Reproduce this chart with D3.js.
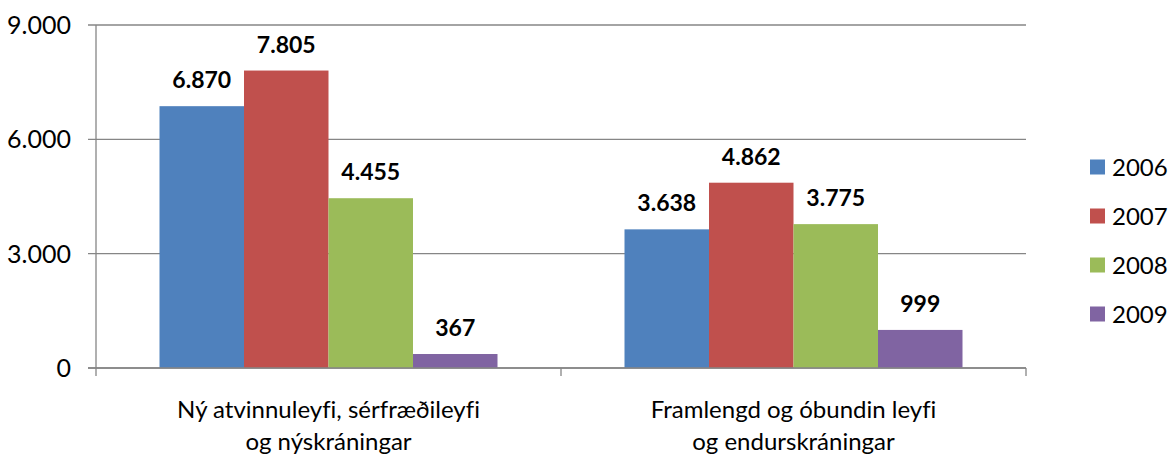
<!DOCTYPE html>
<html><head><meta charset="utf-8">
<script src="https://cdn.jsdelivr.net/npm/d3@7"></script>
<style>body{margin:0;background:#fff}svg{display:block}text{font-family:Lato,"Open Sans",sans-serif;font-variant-ligatures:none;font-feature-settings:"liga" 0}</style>
</head><body><svg id="c" width="1168" height="455"></svg>
<script>
const categories = [["Ný atvinnuleyfi, sérfræðileyfi","og nýskráningar"],["Framlengd og óbundin leyfi","og endurskráningar"]];
const years = ["2006","2007","2008","2009"];
const values = {
  "2006":[6870,3638],
  "2007":[7805,4862],
  "2008":[4455,3775],
  "2009":[367,999]
};
const colors = ["#4F81BD","#C0504D","#9BBB59","#8064A2"];
const ticks = [0,3000,6000,9000];

const svg = d3.select("#c");
const L=96,R=1026,T=25,B=368;
const fmt = v => d3.format(",")(v).replace(/,/g,".");
const y = d3.scaleLinear().domain([0,9000]).range([B,T]);
const x0 = d3.scaleBand().domain([0,1]).range([L,R]).paddingInner(0).paddingOuter(0);
const x1 = d3.scaleBand().domain(years).range([63.5, x0.bandwidth()-63.5]).padding(0);

svg.append("g").selectAll("line").data(ticks).join("line")
  .attr("x1",L-8).attr("x2",R).attr("y1",d=>y(d)).attr("y2",d=>y(d))
  .attr("stroke","#868686").attr("stroke-width",1.3);
svg.append("g").selectAll("text").data(ticks).join("text")
  .attr("x",L-25).attr("y",d=>y(d)).attr("dy","0.36em").attr("text-anchor","end")
  .attr("font-size",25).attr("fill","#000").text(d=>fmt(d));
svg.append("line").attr("x1",L).attr("x2",L).attr("y1",T).attr("y2",B+8).attr("stroke","#868686").attr("stroke-width",1.3);
svg.append("g").selectAll("line").data([L+x0.bandwidth(),R]).join("line")
  .attr("x1",d=>d).attr("x2",d=>d).attr("y1",B).attr("y2",B+8).attr("stroke","#868686").attr("stroke-width",1.3);

years.forEach((yr,i)=>{
  const g = svg.append("g");
  g.selectAll("rect").data(values[yr]).join("rect")
    .attr("x",(d,j)=>x0(j)+x1(yr)).attr("width",x1.bandwidth())
    .attr("y",d=>y(d)).attr("height",d=>B-y(d)).attr("fill",colors[i]);
  g.selectAll("text").data(values[yr]).join("text")
    .attr("x",(d,j)=>x0(j)+x1(yr)+x1.bandwidth()/2).attr("y",d=>y(d)-18)
    .attr("text-anchor","middle").attr("font-size",23).attr("font-weight","bold").text(d=>fmt(d));
});
svg.append("line").attr("x1",L-8).attr("x2",R).attr("y1",B).attr("y2",B).attr("stroke","#868686").attr("stroke-width",1.3);

categories.forEach((lines,j)=>{
  const t = svg.append("text").attr("text-anchor","middle").attr("font-size",24);
  lines.forEach((ln,k)=>t.append("tspan").attr("x",x0(j)+x0.bandwidth()/2).attr("y",418+k*32).text(ln));
});

const lg = svg.append("g");
years.forEach((yr,i)=>{
  const cy = 167+i*49;
  lg.append("rect").attr("x",1090).attr("y",cy-7.5).attr("width",15).attr("height",15).attr("fill",colors[i]);
  lg.append("text").attr("x",1112).attr("y",cy).attr("dy","0.36em").attr("font-size",24).text(yr);
});
</script></body></html>
